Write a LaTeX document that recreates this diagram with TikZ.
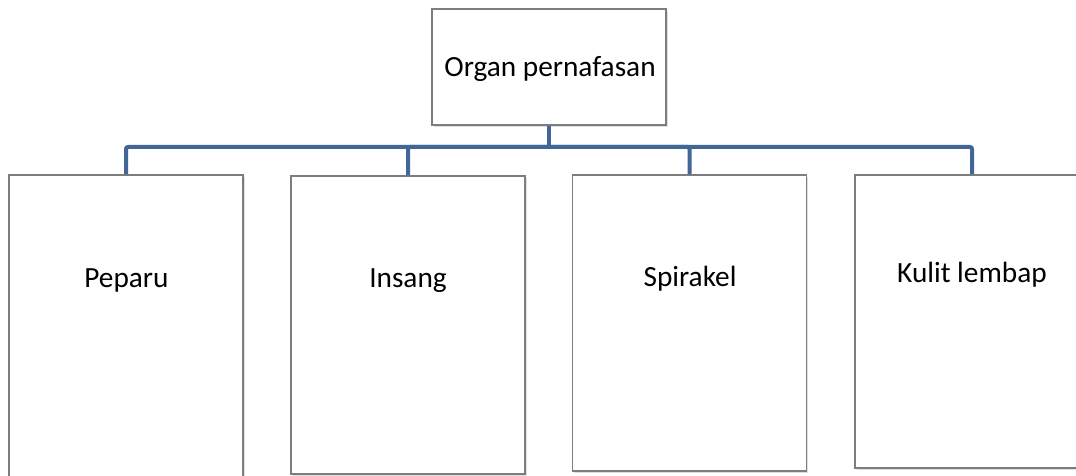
\documentclass[tikz,border=0pt]{standalone}
\usepackage{fontspec}
\setmainfont{Carlito}
\usetikzlibrary{positioning,shadows}
\definecolor{branchblue}{RGB}{64,103,152}
\definecolor{boxgray}{RGB}{125,125,125}
\tikzset{
  organbox/.style={draw=boxgray, line width=1.1pt, fill=white, inner sep=0pt,
    minimum width=234pt, drop shadow={shadow xshift=1.8pt, shadow yshift=-1.8pt, opacity=.25}},
  organtext/.style={anchor=base, inner sep=0pt, font=\fontsize{29.3}{35}\selectfont},
  branch/.style={draw=branchblue, line width=4pt, rounded corners=2pt}
}

\begin{document}
\begin{tikzpicture}[x=1pt,y=-1pt]
    \useasboundingbox (0,0) rectangle (1076,476);
    \clip (0,0) rectangle (1076,476);

    \node[organbox, minimum height=116pt] (organ) at (549,67) {};
    \node[organtext] (organ-t) at (550,77) {Organ pernafasan};

    \node[organbox, minimum height=315pt] (peparu) at (126,332.5) {};
    \node[organbox, minimum height=298pt] (insang) at (408,325) {};
    \node[organbox, minimum height=296pt] (spirakel) at (689.5,323) {};
    \node[organbox, minimum height=293pt] (kulit) at (972,321.5) {};

    \node[organtext] (peparu-t) at (126.5,287) {Peparu};
    \node[organtext] (insang-t) at (408,287) {Insang};
    \node[organtext] (spirakel-t) at (690,286) {Spirakel};
    \node[organtext] (kulit-t) at (972,282) {Kulit lembap};

    \coordinate (hub) at (549,147);
    \draw[branch] (organ.south) -- (hub);
    \draw[branch] (hub) -| (peparu.north);
    \draw[branch] (hub) -| (insang.north);
    \draw[branch] (hub) -| (spirakel.north);
    \draw[branch] (hub) -| (kulit.north);

  \end{tikzpicture}
\end{document}
